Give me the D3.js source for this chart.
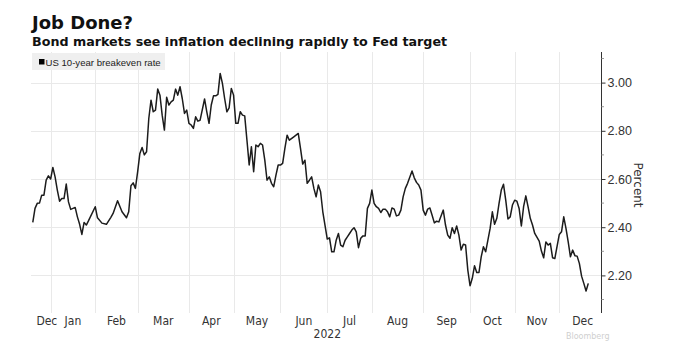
<!DOCTYPE html>
<html>
<head>
<meta charset="utf-8">
<script src="https://cdn.jsdelivr.net/npm/d3@7"></script>
<style>
  body { margin: 0; background: #fff; }
  svg { display: block; }
</style>
</head>
<body>
<svg id="chart" width="675" height="341"></svg>
<script>
// x is the bond-market session number, 0 = first session of 2022 (Jan 3)
const breakeven = [
  [-8, 2.42], [-7, 2.478], [-6, 2.499], [-5, 2.50], [-4, 2.533], [-3, 2.533], [-2, 2.595], [-1, 2.613],
  [0, 2.60], [1, 2.648], [2, 2.609], [3, 2.554], [4, 2.508], [5, 2.519], [6, 2.519], [7, 2.579],
  [8, 2.505], [9, 2.474], [10, 2.478], [11, 2.482], [12, 2.443], [13, 2.412], [14, 2.37], [15, 2.42],
  [16, 2.409], [17, 2.427], [20, 2.485], [21, 2.439], [23, 2.417], [25, 2.412], [27, 2.441], [28, 2.457],
  [30, 2.51], [32, 2.464], [34, 2.439], [35, 2.464], [36, 2.572], [37, 2.584], [38, 2.561], [39, 2.63],
  [40, 2.706], [41, 2.731], [42, 2.70], [43, 2.713], [44, 2.851], [45, 2.927], [46, 2.879], [47, 2.886],
  [48, 2.973], [49, 2.948], [50, 2.865], [51, 2.803], [52, 2.939], [53, 2.907], [54, 2.92], [55, 2.927],
  [56, 2.973], [57, 2.948], [58, 2.983], [59, 2.934], [60, 2.872], [61, 2.886], [62, 2.831], [63, 2.824],
  [64, 2.81], [65, 2.858], [66, 2.84], [67, 2.844], [69, 2.932], [70, 2.879], [71, 2.831], [72, 2.907],
  [73, 2.945], [74, 2.945], [75, 2.951], [76, 3.038], [77, 2.997], [78, 2.934], [79, 2.879], [80, 2.895],
  [81, 2.976], [82, 2.948], [83, 2.831], [84, 2.831], [85, 2.879], [86, 2.865], [87, 2.862], [88, 2.761],
  [89, 2.658], [90, 2.734], [91, 2.63], [92, 2.741], [93, 2.734], [94, 2.748], [95, 2.741], [96, 2.678],
  [97, 2.595], [98, 2.609], [99, 2.582], [100, 2.568], [101, 2.616], [102, 2.658], [103, 2.658], [104, 2.665],
  [105, 2.727], [106, 2.782], [107, 2.761], [109, 2.775], [111, 2.789], [112, 2.727], [113, 2.662], [114, 2.678],
  [115, 2.582], [116, 2.595], [117, 2.609], [118, 2.561], [119, 2.526], [120, 2.575], [121, 2.547], [122, 2.464],
  [124, 2.351], [125, 2.356], [126, 2.298], [127, 2.298], [128, 2.346], [129, 2.374], [130, 2.326], [131, 2.319],
  [132, 2.346], [133, 2.36], [134, 2.374], [135, 2.388], [136, 2.398], [137, 2.381], [138, 2.315], [139, 2.354],
  [140, 2.364], [141, 2.364], [142, 2.478], [143, 2.499], [144, 2.554], [145, 2.499], [146, 2.485], [147, 2.478],
  [148, 2.461], [149, 2.475], [150, 2.475], [151, 2.464], [152, 2.443], [153, 2.48], [154, 2.475], [155, 2.447],
  [156, 2.45], [157, 2.471], [158, 2.526], [159, 2.561], [160, 2.582], [162, 2.633], [163, 2.605], [164, 2.586],
  [165, 2.575], [166, 2.554], [167, 2.471], [168, 2.45], [169, 2.475], [170, 2.48], [171, 2.45], [172, 2.418],
  [173, 2.425], [174, 2.422], [176, 2.471], [177, 2.409], [178, 2.367], [179, 2.354], [180, 2.398], [181, 2.374],
  [182, 2.405], [183, 2.367], [184, 2.305], [185, 2.329], [186, 2.326], [187, 2.222], [188, 2.157], [189, 2.188],
  [190, 2.24], [191, 2.212], [192, 2.212], [193, 2.277], [194, 2.319], [195, 2.298], [196, 2.346], [197, 2.395],
  [198, 2.464], [199, 2.412], [200, 2.437], [201, 2.499], [202, 2.554], [203, 2.578], [204, 2.512], [205, 2.434],
  [206, 2.443], [207, 2.492], [208, 2.512], [209, 2.508], [210, 2.478], [211, 2.405], [212, 2.485], [213, 2.53],
  [214, 2.485], [215, 2.437], [216, 2.409], [217, 2.374], [219, 2.342], [220, 2.301], [221, 2.273], [222, 2.339],
  [223, 2.326], [224, 2.333], [225, 2.273], [226, 2.27], [228, 2.37], [229, 2.381], [230, 2.443], [231, 2.395],
  [232, 2.339], [233, 2.277], [234, 2.305], [235, 2.282], [236, 2.28], [237, 2.25], [238, 2.197], [239, 2.167],
  [240, 2.135], [241, 2.167],
];

// first session of each month and the session count of that month
const monthNames = ['Jan', 'Feb', 'Mar', 'Apr', 'May', 'Jun', 'Jul', 'Aug', 'Sep', 'Oct', 'Nov', 'Dec'];
const monthStart = [0, 20, 39, 62, 82, 103, 124, 144, 167, 188, 208, 228];
const monthSessions = [20, 19, 23, 20, 21, 21, 20, 23, 21, 20, 20, 21];
const prevDecLabelAt = -1.7;   // visible sliver of Dec 2021
const yearLabel = '2022';
const yTicks = [2.2, 2.4, 2.6, 2.8, 3.0];
const yMinorTicks = [2.1, 2.3, 2.5, 2.7, 2.9, 3.1];

const svg = d3.select('#chart');
const plot = { left: 31, right: 601, top: 52, bottom: 313 };

const x = d3.scaleLinear().domain([-8.8, 246.7]).range([plot.left, plot.right]);
const y = d3.scaleLinear().domain([2.044, 3.127]).range([plot.bottom, plot.top]);

// titles
svg.append('text')
  .attr('x', 32).attr('y', 29)
  .attr('font-family', 'DejaVu Sans').attr('font-weight', 'bold').attr('font-size', 18)
  .attr('fill', '#111')
  .text('Job Done?');
svg.append('text')
  .attr('x', 32).attr('y', 46)
  .attr('font-family', 'DejaVu Sans').attr('font-weight', 'bold').attr('font-size', 12.7)
  .attr('fill', '#111')
  .text('Bond markets see inflation declining rapidly to Fed target');

// grid
const grid = svg.append('g').attr('stroke', '#e9e9e9').attr('stroke-width', 1);
grid.selectAll('line.h')
  .data(yTicks)
  .enter()
  .append('line')
  .attr('class', 'h')
  .attr('x1', plot.left).attr('x2', plot.right)
  .attr('y1', d => Math.round(y(d)) + 0.5).attr('y2', d => Math.round(y(d)) + 0.5);
grid.selectAll('line.v')
  .data(monthStart)
  .enter()
  .append('line')
  .attr('class', 'v')
  .attr('x1', d => Math.round(x(d)) + 0.5).attr('x2', d => Math.round(x(d)) + 0.5)
  .attr('y1', plot.top).attr('y2', plot.bottom);

// legend
const legend = svg.append('g');
legend.append('rect')
  .attr('x', 32).attr('y', 53).attr('width', 133).attr('height', 17)
  .attr('fill', '#efefef');
legend.append('rect')
  .attr('x', 39).attr('y', 59).attr('width', 5.5).attr('height', 5.5)
  .attr('fill', '#000');
legend.append('text')
  .attr('x', 45.5).attr('y', 65.5)
  .attr('font-family', 'Liberation Sans, Arial, sans-serif').attr('font-size', 9.6)
  .attr('fill', '#222')
  .text('US 10-year breakeven rate');

// y axis on the right
const yAxis = d3.axisRight(y)
  .tickValues(yTicks)
  .tickSize(4)
  .tickPadding(2)
  .tickFormat(d3.format('.2f'));
const gy = svg.append('g')
  .attr('transform', `translate(${plot.right + 0.5},0)`)
  .call(yAxis);
gy.select('.domain').attr('d', `M0,${plot.top}V${plot.bottom}`).attr('stroke', '#333');
gy.selectAll('.tick line').attr('stroke', '#333');
gy.selectAll('.tick text')
  .attr('font-family', 'Liberation Sans, Arial, sans-serif').attr('font-size', 12.5)
  .attr('fill', '#333');
gy.selectAll('line.minor')
  .data(yMinorTicks)
  .enter()
  .append('line')
  .attr('class', 'minor')
  .attr('x1', 0).attr('x2', 2.5)
  .attr('y1', d => y(d)).attr('y2', d => y(d))
  .attr('stroke', '#999');

svg.append('text')
  .attr('transform', `translate(637,${(plot.top + plot.bottom) / 2 + 2.5}) rotate(90)`)
  .attr('text-anchor', 'middle')
  .attr('dominant-baseline', 'middle')
  .attr('font-family', 'DejaVu Sans').attr('font-size', 12)
  .attr('fill', '#333')
  .text('Percent');

// month labels, centred on each month's sessions
const monthLabels = [{ name: 'Dec', at: prevDecLabelAt }]
  .concat(monthNames.map((name, i) => ({ name, at: monthStart[i] + monthSessions[i] / 2 })));
const xAxis = svg.append('g')
  .attr('font-family', 'Liberation Sans Narrow, DejaVu Sans Condensed, sans-serif')
  .attr('font-size', 12)
  .attr('fill', '#333')
  .attr('text-anchor', 'middle');
xAxis.selectAll('text.month')
  .data(monthLabels)
  .enter()
  .append('text')
  .attr('class', 'month')
  .attr('x', d => x(d.at))
  .attr('y', 324.5)
  .text(d => d.name);
xAxis.append('text')
  .attr('x', x(monthStart[monthNames.indexOf('Jul')]))
  .attr('y', 337.5)
  .text(yearLabel);

// series
const line = d3.line()
  .x(d => x(d[0]))
  .y(d => y(d[1]));
svg.append('path')
  .datum(breakeven)
  .attr('d', line)
  .attr('fill', 'none')
  .attr('stroke', '#1c1c1c')
  .attr('stroke-width', 1.5)
  .attr('stroke-linejoin', 'round');

// source mark in the bottom corner
svg.append('text')
  .attr('x', 566).attr('y', 338.5)
  .attr('font-family', 'DejaVu Sans').attr('font-size', 8)
  .attr('fill', '#cfcfcf')
  .text('Bloomberg');
</script>
</body>
</html>
